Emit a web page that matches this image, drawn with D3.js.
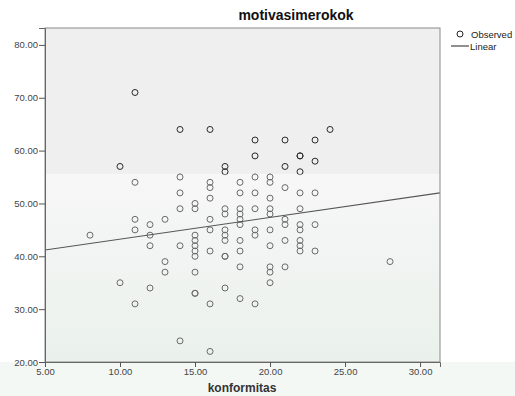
<!DOCTYPE html>
<html><head><meta charset="utf-8">
<script src="https://cdn.jsdelivr.net/npm/d3@7"></script>
<style>
html,body{margin:0;padding:0;background:#fff;}
svg{display:block;font-family:"Liberation Sans",Arial,sans-serif;}
</style></head>
<body><svg id="c" width="515" height="396"></svg>
<script>
// ---- data ----
const title = "motivasimerokok";
const xLabel = "konformitas";
const konformitas = [8, 10, 11, 12, 13, 14, 15, 16, 17, 18, 19, 20, 21, 22, 23, 24, 28];
const motivasiByKonformitas = [
  [44],
  [57, 35],
  [71, 54, 47, 45, 31],
  [46, 44, 42, 34],
  [47, 39, 37],
  [64, 55, 52, 49, 42, 24],
  [50, 49, 44, 43, 42, 41, 40, 37, 33, 33],
  [64, 54, 53, 51, 47, 45, 41, 31, 22],
  [57, 56, 49, 48, 45, 44, 43, 40, 40, 34],
  [54, 52, 49, 48, 47, 46, 43, 41, 38, 32],
  [62, 59, 55, 52, 49, 45, 44, 31],
  [55, 54, 51, 49, 48, 45, 42, 38, 37, 35],
  [62, 57, 53, 47, 46, 43, 38],
  [59, 59, 56, 52, 49, 46, 45, 43, 42, 41],
  [62, 58, 52, 46, 41],
  [64],
  [39]
];
const linearIntercept = 39.15;
const linearSlope = 0.41;
const xTicks = [5, 10, 15, 20, 25, 30];
const yTicks = [20, 30, 40, 50, 60, 70, 80];
const legendLabels = ["Observed", "Linear"];

const points = [];
konformitas.forEach((k, i) => motivasiByKonformitas[i].forEach(m => points.push({x: k, y: m})));

// ---- layout ----
const svg = d3.select("#c");
const L = 45, R = 440, T = 28, B = 362;
const x = d3.scaleLinear().domain([5, 31.33]).range([L, R]);
const y = d3.scaleLinear().domain([20, 83.2]).range([B, T]);

const defs = svg.append("defs");
const g1 = defs.append("linearGradient").attr("id", "lowbg").attr("x1", 0).attr("y1", 0).attr("x2", 0).attr("y2", 1);
g1.append("stop").attr("offset", "0%").attr("stop-color", "#f7f7f7");
g1.append("stop").attr("offset", "45%").attr("stop-color", "#f1f4f2");
g1.append("stop").attr("offset", "100%").attr("stop-color", "#eaf1ec");
const splitV = 55.5;
defs.append("clipPath").attr("id", "upper").append("rect")
  .attr("x", L).attr("y", T).attr("width", R - L).attr("height", y(splitV) - T);
defs.append("clipPath").attr("id", "lower").append("rect")
  .attr("x", L).attr("y", y(splitV)).attr("width", R - L).attr("height", B - y(splitV));
defs.append("clipPath").attr("id", "plot").append("rect")
  .attr("x", L).attr("y", T).attr("width", R - L).attr("height", B - T);

// faint tint below plot (scan watermark area)
svg.append("rect").attr("x", 0).attr("y", B).attr("width", 515).attr("height", 396 - B).attr("fill", "#f4f8f5");

// backgrounds
svg.append("rect").attr("x", L).attr("y", T).attr("width", R - L).attr("height", y(splitV) - T).attr("fill", "#efefef");
svg.append("rect").attr("x", L).attr("y", y(splitV)).attr("width", R - L).attr("height", B - y(splitV)).attr("fill", "url(#lowbg)");

// points: darker in upper band, lighter in lower band
const drawPts = (clip, col) => svg.append("g").attr("clip-path", `url(#${clip})`)
  .selectAll("circle").data(points).join("circle")
  .attr("cx", d => x(d.x)).attr("cy", d => y(d.y)).attr("r", 3)
  .attr("fill", "none").attr("stroke", col).attr("stroke-width", 1);
drawPts("upper", "#2a2a2a");
drawPts("lower", "#6a6a6a");

// regression line
svg.append("g").attr("clip-path", "url(#plot)").append("line")
  .attr("x1", x(5)).attr("y1", y(linearIntercept + linearSlope * 5))
  .attr("x2", x(31.33)).attr("y2", y(linearIntercept + linearSlope * 31.33))
  .attr("stroke", "#555").attr("stroke-width", 1.1);

// frame
svg.append("rect").attr("x", L).attr("y", T).attr("width", R - L).attr("height", B - T)
  .attr("fill", "none").attr("stroke", "#8a8a8a").attr("stroke-width", 1);

// axes
const fmt = d3.format(".2f");
const xa = svg.append("g").attr("transform", `translate(0,${B})`)
  .call(d3.axisBottom(x).tickValues(xTicks).tickFormat(fmt).tickSize(5).tickPadding(1));
const ya = svg.append("g").attr("transform", `translate(${L},0)`)
  .call(d3.axisLeft(y).tickValues(yTicks).tickFormat(fmt).tickSize(6).tickPadding(1));
[xa, ya].forEach(a => {
  a.select(".domain").attr("stroke", "#666");
  a.selectAll(".tick line").attr("stroke", "#555");
  a.selectAll("text").attr("font-family", "Liberation Sans, Arial, sans-serif")
    .attr("font-size", 9.5).attr("fill", "#444");
});

// title and axis label
svg.append("text").attr("x", 296).attr("y", 20).attr("text-anchor", "middle")
  .attr("font-size", 14).attr("font-weight", "bold").attr("fill", "#111").text(title);
svg.append("text").attr("x", 242).attr("y", 392).attr("text-anchor", "middle")
  .attr("font-size", 12).attr("font-weight", "bold").attr("fill", "#333").text(xLabel);

// legend
const lg = svg.append("g");
lg.append("circle").attr("cx", 460).attr("cy", 34).attr("r", 3).attr("fill", "none").attr("stroke", "#222");
lg.append("text").attr("x", 471).attr("y", 37.5).attr("font-size", 9.5).attr("fill", "#222").text(legendLabels[0]);
lg.append("line").attr("x1", 451).attr("x2", 469).attr("y1", 46).attr("y2", 46).attr("stroke", "#222");
lg.append("text").attr("x", 470).attr("y", 49.5).attr("font-size", 9.5).attr("fill", "#222").text(legendLabels[1]);
</script></body></html>
